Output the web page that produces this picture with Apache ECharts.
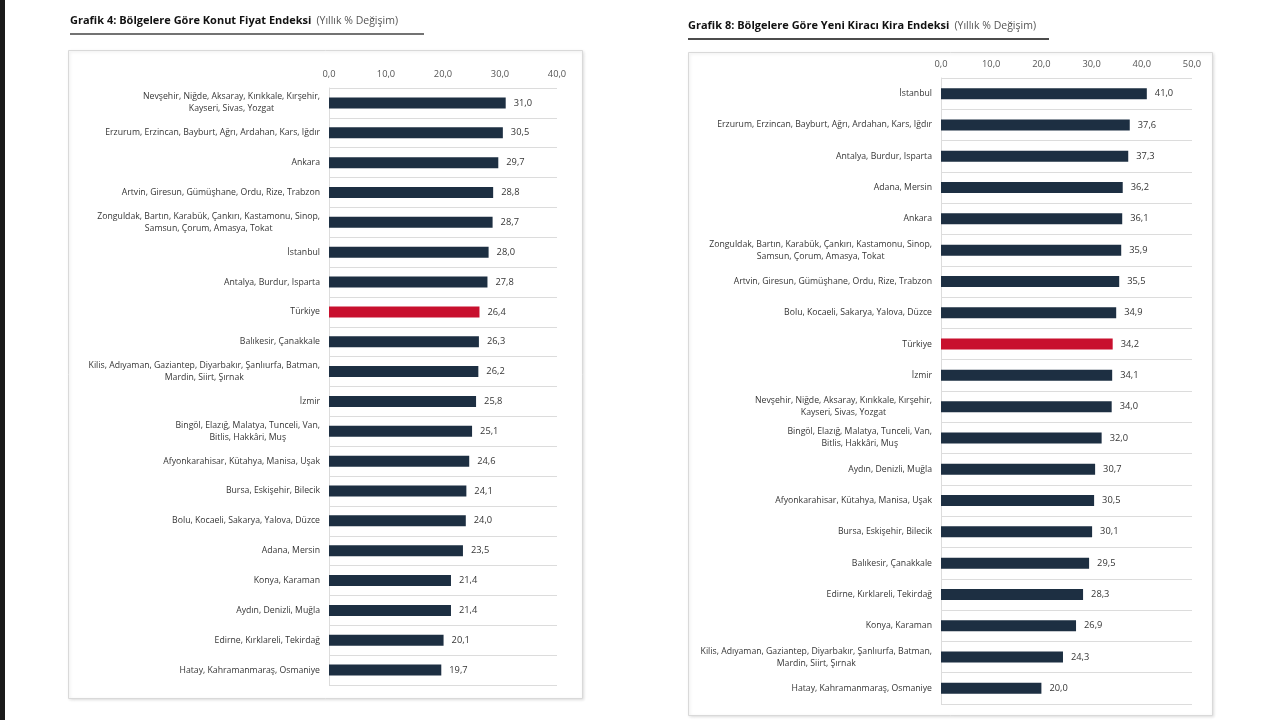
<!DOCTYPE html>
<html>
<head>
<meta charset="utf-8">
<script src="https://cdn.jsdelivr.net/npm/echarts@6/dist/echarts.min.js"></script>
<style>
html,body{margin:0;padding:0;background:#fff;}
#c{width:1280px;height:720px;}
</style>
</head>
<body>
<div id="c"></div>
<script>
// ---- Data ----
const leftTitle = 'Grafik 4: Bölgelere Göre Konut Fiyat Endeksi';
const rightTitle = 'Grafik 8: Bölgelere Göre Yeni Kiracı Kira Endeksi';
const subTitle = '(Yıllık % Değişim)';

const leftCategories = [
  'Nevşehir, Niğde, Aksaray, Kırıkkale, Kırşehir,\nKayseri, Sivas, Yozgat',
  'Erzurum, Erzincan, Bayburt, Ağrı, Ardahan, Kars, Iğdır',
  'Ankara',
  'Artvin, Giresun, Gümüşhane, Ordu, Rize, Trabzon',
  'Zonguldak, Bartın, Karabük, Çankırı, Kastamonu, Sinop,\nSamsun, Çorum, Amasya, Tokat',
  'İstanbul',
  'Antalya, Burdur, Isparta',
  'Türkiye',
  'Balıkesir, Çanakkale',
  'Kilis, Adıyaman, Gaziantep, Diyarbakır, Şanlıurfa, Batman,\nMardin, Siirt, Şırnak',
  'İzmir',
  'Bingöl, Elazığ, Malatya, Tunceli, Van,\nBitlis, Hakkâri, Muş',
  'Afyonkarahisar, Kütahya, Manisa, Uşak',
  'Bursa, Eskişehir, Bilecik',
  'Bolu, Kocaeli, Sakarya, Yalova, Düzce',
  'Adana, Mersin',
  'Konya, Karaman',
  'Aydın, Denizli, Muğla',
  'Edirne, Kırklareli, Tekirdağ',
  'Hatay, Kahramanmaraş, Osmaniye'
];
const leftValues = [31.0, 30.5, 29.7, 28.8, 28.7, 28.0, 27.8, 26.4, 26.3, 26.2, 25.8, 25.1, 24.6, 24.1, 24.0, 23.5, 21.4, 21.4, 20.1, 19.7];
const leftTicks = [0, 10, 20, 30, 40];

const rightCategories = [
  'İstanbul',
  'Erzurum, Erzincan, Bayburt, Ağrı, Ardahan, Kars, Iğdır',
  'Antalya, Burdur, Isparta',
  'Adana, Mersin',
  'Ankara',
  'Zonguldak, Bartın, Karabük, Çankırı, Kastamonu, Sinop,\nSamsun, Çorum, Amasya, Tokat',
  'Artvin, Giresun, Gümüşhane, Ordu, Rize, Trabzon',
  'Bolu, Kocaeli, Sakarya, Yalova, Düzce',
  'Türkiye',
  'İzmir',
  'Nevşehir, Niğde, Aksaray, Kırıkkale, Kırşehir,\nKayseri, Sivas, Yozgat',
  'Bingöl, Elazığ, Malatya, Tunceli, Van,\nBitlis, Hakkâri, Muş',
  'Aydın, Denizli, Muğla',
  'Afyonkarahisar, Kütahya, Manisa, Uşak',
  'Bursa, Eskişehir, Bilecik',
  'Balıkesir, Çanakkale',
  'Edirne, Kırklareli, Tekirdağ',
  'Konya, Karaman',
  'Kilis, Adıyaman, Gaziantep, Diyarbakır, Şanlıurfa, Batman,\nMardin, Siirt, Şırnak',
  'Hatay, Kahramanmaraş, Osmaniye'
];
const rightValues = [41.0, 37.6, 37.3, 36.2, 36.1, 35.9, 35.5, 34.9, 34.2, 34.1, 34.0, 32.0, 30.7, 30.5, 30.1, 29.5, 28.3, 26.9, 24.3, 20.0];
const rightTicks = [0, 10, 20, 30, 40, 50];

const highlight = 'Türkiye';

// ---- Styles ----
const FONT = '"Open Sans", "Noto Sans", sans-serif';
const NAVY = '#1d2f42';
const RED = '#c8102e';
const GRIDLINE = '#dcdcdc';
const LABEL_SIZE = 8.7;
const TEXT = '#353535';
const fmt = v => v.toFixed(1).replace('.', ',');

function barData(cats, vals) {
  return vals.map((v, i) => cats[i] === highlight ? { value: v, itemStyle: { color: RED } } : v);
}
function catFormatter(v) {
  return v.split('\n').map(l => '{c|' + l + '}').join('\n');
}

function xAxisFor(gridIndex, ticks) {
  const step = ticks[1] - ticks[0];
  return {
    gridIndex, type: 'value', position: 'top',
    min: ticks[0], max: ticks[ticks.length - 1], interval: step,
    axisLine: { show: false }, axisTick: { show: false }, splitLine: { show: false },
    axisLabel: { formatter: fmt, color: '#555', fontSize: 9.3, fontFamily: FONT, margin: 9 }
  };
}
function yAxisFor(gridIndex, cats) {
  return {
    gridIndex, type: 'category', inverse: true, data: cats,
    axisLine: { show: true, lineStyle: { color: GRIDLINE, width: 1 } },
    axisTick: { show: false },
    splitLine: { show: true, lineStyle: { color: GRIDLINE, width: 1 } },
    axisLabel: {
      margin: 9, color: TEXT, fontSize: LABEL_SIZE, fontFamily: FONT, lineHeight: 12,
      formatter: catFormatter,
      rich: { c: { align: 'center', fontSize: LABEL_SIZE, fontFamily: FONT, color: TEXT, lineHeight: 12 } }
    }
  };
}
function seriesFor(idx, cats, vals) {
  return {
    type: 'bar', xAxisIndex: idx, yAxisIndex: idx,
    data: barData(cats, vals), barWidth: 11,
    itemStyle: { color: NAVY },
    label: { show: true, position: 'right', distance: 8, formatter: p => fmt(p.value),
             color: TEXT, fontSize: 9.3, fontFamily: FONT },
    silent: true, animation: false
  };
}
function titleFor(left, top, main) {
  return {
    left, top, padding: 0, text: '{b|' + main + '} {n|' + subTitle + '}',
    textStyle: { fontWeight: 'normal', rich: {
      b: { fontFamily: FONT, fontWeight: 'bold', fontSize: 11, color: '#111' },
      n: { fontFamily: FONT, fontWeight: 'normal', fontSize: 10.5, color: '#555' } } }
  };
}

const chart = echarts.init(document.getElementById('c'), null, { renderer: 'canvas' });
chart.setOption({
  backgroundColor: '#ffffff',
  animation: false,
  title: [ titleFor(70, 12, leftTitle), titleFor(688, 17, rightTitle) ],
  graphic: [
    { type: 'rect', left: 0, top: 0, shape: { width: 5, height: 720 }, style: { fill: '#1a1a1a' }, z: 0 },
    { type: 'line', shape: { x1: 70, y1: 34, x2: 424, y2: 34 }, style: { stroke: '#444', lineWidth: 1.5 } },
    { type: 'line', shape: { x1: 688, y1: 39, x2: 1049, y2: 39 }, style: { stroke: '#111', lineWidth: 1.5 } },
    { type: 'rect', shape: { x: 68.5, y: 50.5, width: 514, height: 648 },
      style: { fill: '#fff', stroke: '#d9d9d9', lineWidth: 1, shadowBlur: 3, shadowColor: 'rgba(0,0,0,0.12)', shadowOffsetX: 1, shadowOffsetY: 1 }, z: -10 },
    { type: 'rect', shape: { x: 688.5, y: 52.5, width: 524, height: 663 },
      style: { fill: '#fff', stroke: '#d9d9d9', lineWidth: 1, shadowBlur: 3, shadowColor: 'rgba(0,0,0,0.12)', shadowOffsetX: 1, shadowOffsetY: 1 }, z: -10 }
  ],
  grid: [
    { left: 329, top: 88, width: 228, height: 597 },
    { left: 941, top: 78, width: 251, height: 626 }
  ],
  xAxis: [ xAxisFor(0, leftTicks), xAxisFor(1, rightTicks) ],
  yAxis: [ yAxisFor(0, leftCategories), yAxisFor(1, rightCategories) ],
  series: [ seriesFor(0, leftCategories, leftValues), seriesFor(1, rightCategories, rightValues) ]
});
</script>
</body>
</html>
